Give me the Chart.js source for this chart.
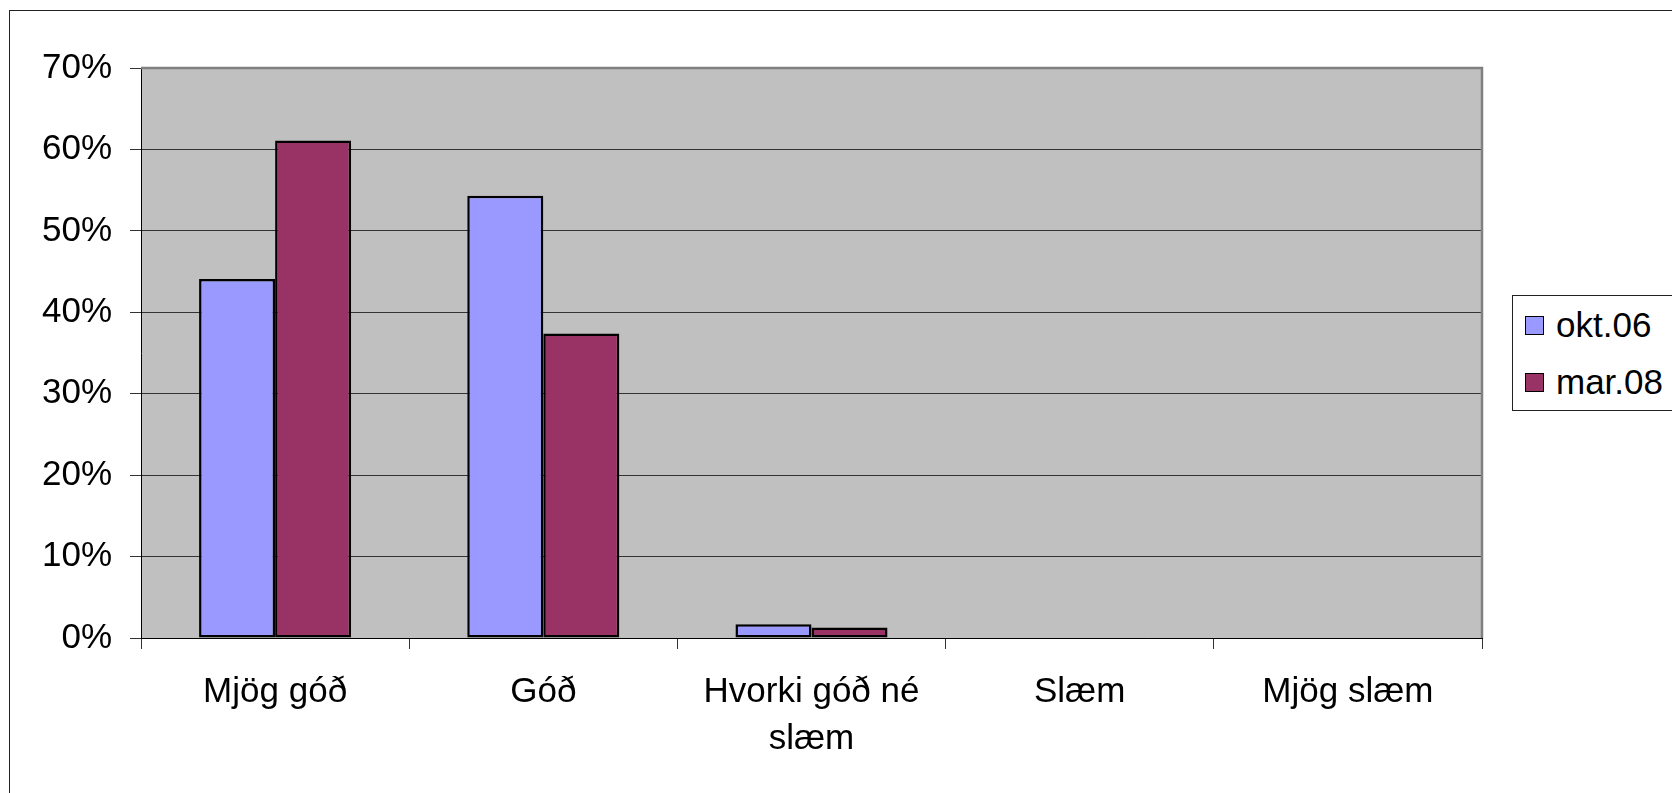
<!DOCTYPE html>
<html>
<head>
<meta charset="utf-8">
<script src="https://cdn.jsdelivr.net/npm/chart.js@4.4.1/dist/chart.umd.min.js"></script>
<style>
  html, body { margin: 0; padding: 0; background: #fff; overflow: hidden; }
  #frame { position: absolute; left: 9px; top: 10px; width: 1700px; height: 800px; border: 1px solid #222; }
  #chart { position: absolute; left: 0; top: 0; }
  #legend {
    position: absolute; left: 1512px; top: 295px; width: 200px; height: 114px;
    border: 1px solid #222; background: #fff;
    font-family: 'Liberation Sans', Arial, sans-serif; font-size: 35px; color: #000;
  }
  .legend-item { position: absolute; left: 12px; height: 40px; line-height: 40px; white-space: nowrap; }
  .legend-swatch {
    display: inline-block; width: 17px; height: 17px; border: 1.5px solid #000;
    vertical-align: middle; margin-right: 12px; position: relative; top: -2px;
  }
</style>
</head>
<body>
<div id="frame"></div>
<canvas id="chart" width="1672" height="793"></canvas>
<div id="legend"></div>
<script>
// ============================================================
// Bar chart: mjög góð ... mjög slæm, okt.06 vs mar.08
// ============================================================

const categories = ['Mjög góð', 'Góð', ['Hvorki góð né', 'slæm'], 'Slæm', 'Mjög slæm'];
const seriesLabels = ['okt.06', 'mar.08'];
const seriesColors = ['#9999FF', '#993366'];
const okt06 = [44.1, 54.3, 1.7, 0, 0];
const mar08 = [61.1, 37.4, 1.3, 0, 0];
const yMax = 70;
const yStep = 10;

const FONT = "'Liberation Sans', Arial, sans-serif";

// plot background + grey top/right frame like the old Excel look
const plotFrame = {
  id: 'plotFrame',
  beforeDraw(chart) {
    const { ctx, chartArea: a } = chart;
    ctx.save();
    ctx.fillStyle = '#c0c0c0';
    ctx.fillRect(a.left, a.top, a.right - a.left, a.bottom - a.top);
    ctx.restore();
  },
  afterDraw(chart) {
    const { ctx, chartArea: a } = chart;
    ctx.save();
    ctx.strokeStyle = '#808080';
    ctx.lineWidth = 2.5;
    ctx.beginPath();
    ctx.moveTo(a.left, a.top);
    ctx.lineTo(a.right, a.top);
    ctx.lineTo(a.right, a.bottom);
    ctx.stroke();
    ctx.restore();
  }
};

const series = [okt06, mar08];

new Chart(document.getElementById('chart'), {
  type: 'bar',
  data: {
    labels: categories,
    datasets: series.map((data, i) => ({
      label: seriesLabels[i],
      data,
      backgroundColor: seriesColors[i],
      borderColor: '#000',
      borderWidth: 2.5,
      borderSkipped: false,
      categoryPercentage: 0.567,
      barPercentage: 1
    }))
  },
  options: {
    responsive: false,
    animation: false,
    layout: { padding: { top: 68, right: 190, left: 0, bottom: 0 } },
    plugins: { legend: { display: false }, tooltip: { enabled: false } },
    scales: {
      x: {
        afterFit(scale) { scale.height = 155; },
        grid: { offset: true, drawOnChartArea: false, drawTicks: true, tickLength: 11, color: '#333' },
        border: { color: '#000', width: 1 },
        ticks: { color: '#000', padding: 20, font: { family: FONT, size: 35, lineHeight: 1.34 }, maxRotation: 0, autoSkip: false }
      },
      y: {
        min: 0,
        max: yMax,
        afterFit(scale) { scale.width = 141; },
        grid: { color: '#333', tickLength: 11 },
        border: { color: '#000', width: 1 },
        ticks: {
          stepSize: yStep,
          color: '#000',
          padding: 18,
          font: { family: FONT, size: 35 },
          callback: v => v + '%'
        }
      }
    }
  },
  plugins: [plotFrame]
});

// legend (boxed, partly cut off at the right edge as in the original)
const legend = document.getElementById('legend');
seriesLabels.forEach((label, i) => {
  const item = document.createElement('div');
  item.className = 'legend-item';
  item.style.top = (9 + i * 57) + 'px';
  item.innerHTML = `<span class="legend-swatch" style="background:${seriesColors[i]}"></span>${label}`;
  legend.appendChild(item);
});
</script>
</body>
</html>
